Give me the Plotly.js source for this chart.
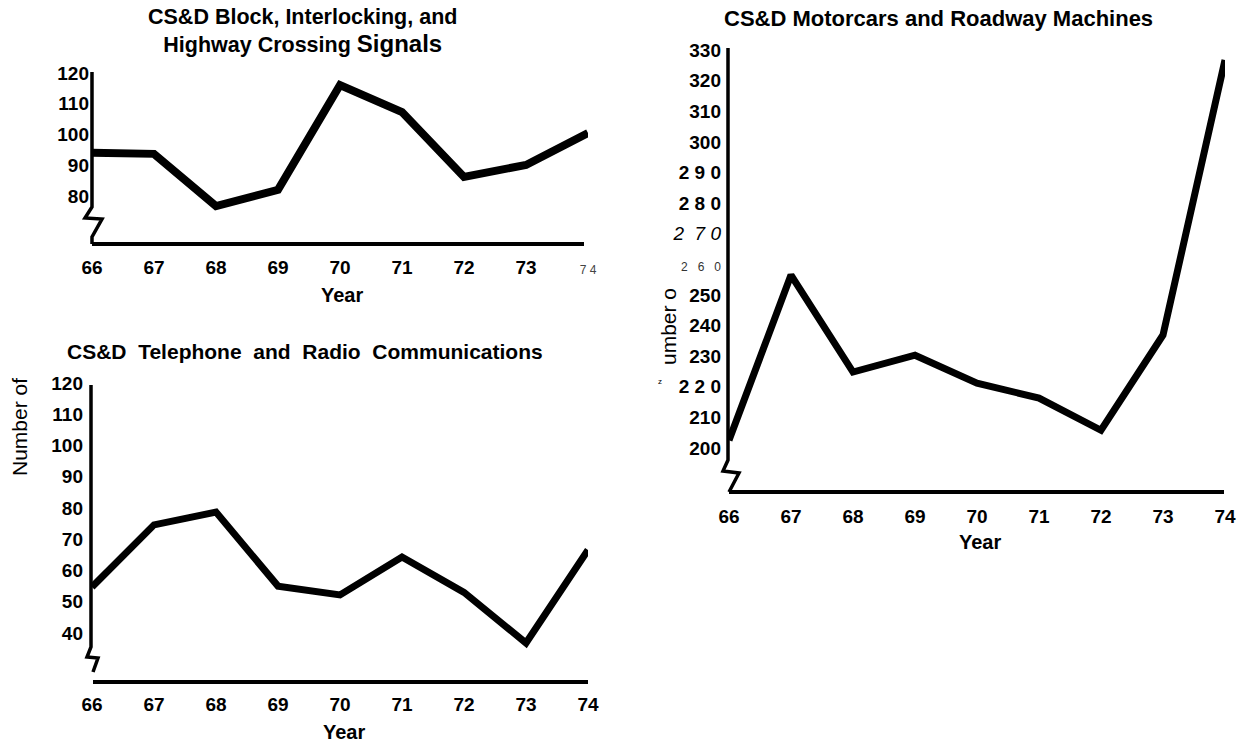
<!DOCTYPE html>
<html>
<head>
<meta charset="utf-8">
<script src="https://cdn.plot.ly/plotly-3.0.1.min.js"></script>
<style>html,body{margin:0;padding:0;background:#fff;}#chart{width:1242px;height:745px;}</style>
</head>
<body>
<div id="chart"></div>
<script>
// ---- data ----
const years = [66, 67, 68, 69, 70, 71, 72, 73, 74];
const signals = [94.1, 93.7, 76.7, 82.0, 116.1, 107.3, 86.2, 90.1, 100.5];
const telecom = [54.7, 74.6, 78.7, 55.0, 52.2, 64.3, 53.0, 36.8, 66.6];
const motorcars = [202.5, 256.5, 224.8, 230.3, 221.2, 216.3, 205.8, 236.9, 326.7];

const signalsTickVals = [80, 90, 100, 110, 120];
const signalsTickText = ['80', '90', '100', '110', '120'];
const telecomTickVals = [40, 50, 60, 70, 80, 90, 100, 110, 120];
const telecomTickText = ['40', '50', '60', '70', '80', '90', '100', '110', '120'];
const motorTickVals = [200, 210, 220, 230, 240, 250, 260, 270, 280, 290, 300, 310, 320, 330];
const motorTickText = ['200', '210', '2&nbsp;2&nbsp;0', '230', '240', '250',
  '<span style="font-size:12px;font-weight:normal;color:#333">2&nbsp;&nbsp;&nbsp;6&nbsp;&nbsp;&nbsp;0</span>',
  '<span style="font-style:italic;font-weight:normal">2&nbsp;&nbsp;7&nbsp;0</span>',
  '2&nbsp;8&nbsp;0', '2&nbsp;9&nbsp;0', '300', '310', '320', '330'];
const yearTickText = ['66', '67', '68', '69', '70', '71', '72', '73', '74'];
const yearTickTextTop = ['66', '67', '68', '69', '70', '71', '72', '73',
  '<span style="font-size:12px;font-weight:normal;color:#444">7&nbsp;4</span>'];

// ---- layout helpers (pixel -> paper) ----
const W = 1242, H = 745;
const px = x => x / W;
const py = y => 1 - y / H;
function yRange(top, bottom, v0, p0, k) { return [v0 - (bottom - p0) / k, v0 + (p0 - top) / k]; }
function pathFrom(pts) { return pts.map((p, i) => (i ? 'L' : 'M') + px(p[0]).toFixed(5) + ',' + py(p[1]).toFixed(5)).join(' '); }

const FONT = 'Liberation Sans, Arial, Helvetica, sans-serif';
const tickFont = {family: FONT, size: 19, color: '#000', weight: 'bold'};

function xAxis(d0, d1, anchor, text, standoff) {
  return {domain: [px(d0), px(d1)], range: [66, 74], anchor: anchor, showgrid: false, zeroline: false,
    showline: false, ticks: '', tickmode: 'array', tickvals: years, ticktext: text,
    tickfont: tickFont, ticklabelstandoff: standoff, fixedrange: true};
}
function yAxis(top, bottom, range, anchor, vals, text, standoff, size) {
  return {domain: [py(bottom), py(top)], range: range, anchor: anchor, showgrid: false, zeroline: false,
    showline: false, ticks: '', tickmode: 'array', tickvals: vals, ticktext: text,
    tickfont: Object.assign({}, tickFont, {size: size}), ticklabelstandoff: standoff, fixedrange: true};
}

const traces = [
  {x: years, y: signals, xaxis: 'x', yaxis: 'y', mode: 'lines', line: {color: '#000', width: 8}, cliponaxis: false, hoverinfo: 'skip'},
  {x: years, y: telecom, xaxis: 'x2', yaxis: 'y2', mode: 'lines', line: {color: '#000', width: 7}, cliponaxis: false, hoverinfo: 'skip'},
  {x: years, y: motorcars, xaxis: 'x3', yaxis: 'y3', mode: 'lines', line: {color: '#000', width: 7}, cliponaxis: false, hoverinfo: 'skip'}
];

const axisLine = (pts, w) => ({type: 'path', xref: 'paper', yref: 'paper', path: pathFrom(pts), line: {color: '#000', width: w}, layer: 'above'});

const ann = (x, y, text, size, extra) => Object.assign({xref: 'paper', yref: 'paper', x: px(x), y: py(y), text: text,
  showarrow: false, xanchor: 'center', yanchor: 'middle', font: {family: FONT, size: size, color: '#000', weight: 'bold'}}, extra || {});

const layout = {
  width: W, height: H, margin: {l: 0, r: 0, t: 0, b: 0}, showlegend: false,
  paper_bgcolor: '#fff', plot_bgcolor: 'rgba(0,0,0,0)',
  xaxis: xAxis(92, 588, 'y', yearTickTextTop, 10),
  yaxis: yAxis(70, 244, yRange(70, 244, 120, 73, 3.075), 'x', signalsTickVals, signalsTickText, 2, 19),
  xaxis2: xAxis(92, 588, 'y2', yearTickText, 9),
  yaxis2: yAxis(380, 682, yRange(380, 682, 120, 383, 3.125), 'x2', telecomTickVals, telecomTickText, 8, 19),
  xaxis3: xAxis(729, 1225, 'y3', yearTickText, 11),
  yaxis3: yAxis(46, 492, yRange(46, 492, 330, 50, 3.0615), 'x3', motorTickVals, motorTickText, 7, 19),
  shapes: [
    axisLine([[92, 72], [92, 207], [85, 218], [102, 219], [92, 237], [92, 244]], 3.5),
    axisLine([[92, 244], [584, 244]], 4),
    axisLine([[91, 385], [91, 647], [87, 657], [98, 658], [93, 672]], 3.5),
    axisLine([[93, 682], [588, 682]], 4),
    axisLine([[728, 48], [728, 460], [723, 471], [739, 473], [729, 492]], 3.5),
    axisLine([[729, 492], [1224, 492]], 4)
  ],
  annotations: [
    ann(302, 31, 'CS&amp;D Block, Interlocking, and<br>Highway Crossing <span style="font-size:24px">Signals</span>', 21.5),
    ann(342, 295, 'Year', 20),
    ann(305, 352, 'CS&amp;D&nbsp; Telephone&nbsp; and&nbsp; Radio&nbsp; Communications', 21),
    ann(344, 732, 'Year', 20),
    ann(938, 18, 'CS&amp;D Motorcars and Roadway Machines', 22),
    ann(980, 542, 'Year', 20),
    ann(19, 427, 'Number of', 21, {textangle: -90, font: {family: FONT, size: 21, color: '#000', weight: 'normal'}}),
    ann(668, 326, 'umber o', 21, {textangle: -90, font: {family: FONT, size: 21, color: '#000', weight: 'normal'}}),
    ann(660, 381, 'z', 8, {font: {family: FONT, size: 8, color: '#000', weight: 'normal'}})
  ]
};

Plotly.newPlot('chart', traces, layout, {staticPlot: true, displayModeBar: false});
</script>
</body>
</html>
